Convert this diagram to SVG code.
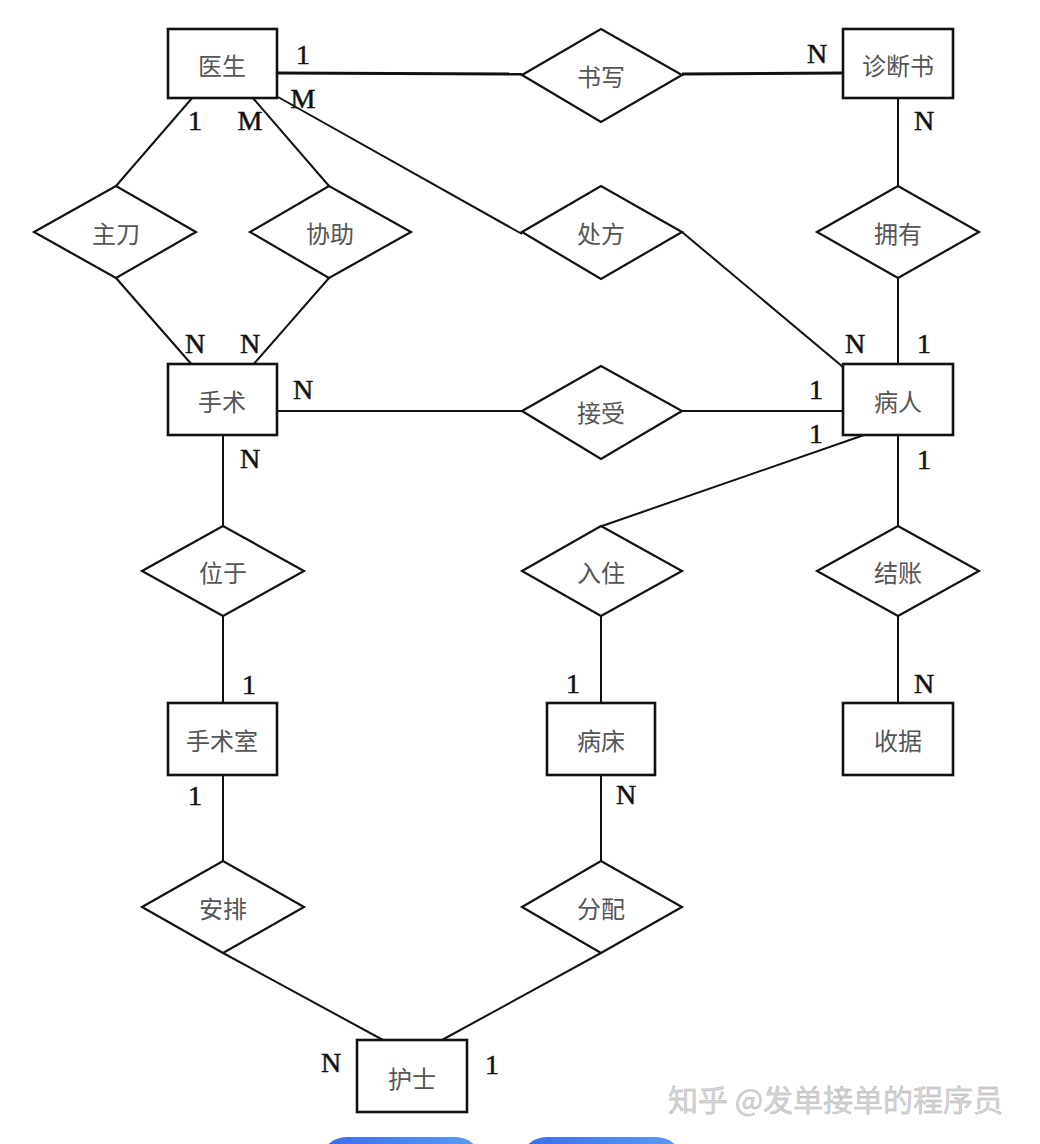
<svg xmlns="http://www.w3.org/2000/svg" width="1040" height="1144" viewBox="0 0 1040 1144">
<style>
.ent rect{fill:#fff;stroke:#111;stroke-width:2.6}
.rel polygon{fill:#fff;stroke:#111;stroke-width:2.2}
.lbl{font-family:"Noto Sans CJK SC","Noto Sans",sans-serif;font-size:24px;fill:#555;text-anchor:middle;dominant-baseline:central}
.card{font-family:"Liberation Serif","DejaVu Serif",serif;font-size:28px;fill:#111;stroke:#111;stroke-width:0.5;text-anchor:middle;dominant-baseline:central}
#connectors line{stroke:#111;stroke-width:2}
.wm{font-family:"Noto Sans CJK SC",sans-serif;font-size:30px;fill:#d4d4d4;stroke:#b0b0b0;stroke-width:0.4}
</style>
<defs>
<linearGradient id="btn" x1="0" x2="1" y1="0" y2="0">
<stop offset="0" stop-color="#3d6cf2"/>
<stop offset="1" stop-color="#5a9cf0"/>
</linearGradient>
</defs>
<rect width="1040" height="1144" fill="#fff"/>
<g id="connectors">
<line x1="277" y1="73" x2="522" y2="74" style="stroke-width:3"/>
<line x1="682" y1="74" x2="843" y2="73" style="stroke-width:3"/>
<line x1="278" y1="97" x2="522" y2="234"/>
<line x1="682" y1="232" x2="843" y2="367"/>
<line x1="898" y1="98" x2="898" y2="186"/>
<line x1="898" y1="278" x2="898" y2="364"/>
<line x1="193" y1="97" x2="116" y2="186"/>
<line x1="252" y1="97" x2="329" y2="186"/>
<line x1="116" y1="278" x2="193" y2="366"/>
<line x1="329" y1="278" x2="252" y2="366"/>
<line x1="277" y1="411" x2="522" y2="411"/>
<line x1="682" y1="411" x2="843" y2="411"/>
<line x1="223" y1="435" x2="223" y2="526"/>
<line x1="867" y1="434" x2="602" y2="526"/>
<line x1="898" y1="435" x2="898" y2="526"/>
<line x1="223" y1="616" x2="223" y2="703"/>
<line x1="601" y1="616" x2="601" y2="703"/>
<line x1="898" y1="616" x2="898" y2="703"/>
<line x1="223" y1="775" x2="223" y2="861"/>
<line x1="601" y1="775" x2="601" y2="861"/>
<line x1="223" y1="953" x2="383" y2="1040"/>
<line x1="601" y1="953" x2="442" y2="1040"/>
</g>
<g id="n_yisheng" class="ent"><rect x="168" y="29" width="109" height="69"/><text class="lbl" x="222" y="64">医生</text></g>
<g id="n_zhenduanshu" class="ent"><rect x="843" y="29" width="110" height="69"/><text class="lbl" x="898" y="64">诊断书</text></g>
<g id="n_shoushu" class="ent"><rect x="168" y="364" width="109" height="71"/><text class="lbl" x="222" y="400">手术</text></g>
<g id="n_bingren" class="ent"><rect x="843" y="364" width="110" height="71"/><text class="lbl" x="898" y="400">病人</text></g>
<g id="n_shoushushi" class="ent"><rect x="168" y="703" width="109" height="72"/><text class="lbl" x="222" y="739">手术室</text></g>
<g id="n_bingchuang" class="ent"><rect x="547" y="703" width="108" height="72"/><text class="lbl" x="601" y="739">病床</text></g>
<g id="n_shouju" class="ent"><rect x="843" y="703" width="110" height="72"/><text class="lbl" x="898" y="739">收据</text></g>
<g id="n_hushi" class="ent"><rect x="357" y="1040" width="110" height="72"/><text class="lbl" x="412" y="1077">护士</text></g>
<g id="r_shuxie" class="rel"><polygon points="522,75 601,29 682,75 601,122"/><text class="lbl" x="601" y="75">书写</text></g>
<g id="r_chufang" class="rel"><polygon points="522,232 601,186 682,232 601,279"/><text class="lbl" x="601" y="232">处方</text></g>
<g id="r_yongyou" class="rel"><polygon points="817,232 898,186 979,232 898,278"/><text class="lbl" x="898" y="232">拥有</text></g>
<g id="r_zhudao" class="rel"><polygon points="34,232 116,186 196,232 116,278"/><text class="lbl" x="116" y="232">主刀</text></g>
<g id="r_xiezhu" class="rel"><polygon points="250,232 329,186 411,232 329,278"/><text class="lbl" x="330" y="232">协助</text></g>
<g id="r_jieshou" class="rel"><polygon points="522,411 601,366 682,411 601,459"/><text class="lbl" x="601" y="411">接受</text></g>
<g id="r_weiyu" class="rel"><polygon points="142,571 223,526 304,571 223,616"/><text class="lbl" x="223" y="571">位于</text></g>
<g id="r_ruzhu" class="rel"><polygon points="522,571 601,526 682,571 601,616"/><text class="lbl" x="601" y="571">入住</text></g>
<g id="r_jiezhang" class="rel"><polygon points="817,571 898,526 979,571 898,616"/><text class="lbl" x="898" y="571">结账</text></g>
<g id="r_anpai" class="rel"><polygon points="142,907 223,861 304,907 223,953"/><text class="lbl" x="223" y="907">安排</text></g>
<g id="r_fenpei" class="rel"><polygon points="522,907 601,861 682,907 601,953"/><text class="lbl" x="601" y="907">分配</text></g>
<g id="cardinalities">
<text class="card" x="303" y="54">1</text>
<text class="card" x="303" y="98">M</text>
<text class="card" x="195" y="120">1</text>
<text class="card" x="250" y="120">M</text>
<text class="card" x="817" y="53">N</text>
<text class="card" x="924" y="120">N</text>
<text class="card" x="195" y="343">N</text>
<text class="card" x="250" y="343">N</text>
<text class="card" x="303" y="389">N</text>
<text class="card" x="250" y="458">N</text>
<text class="card" x="855" y="343">N</text>
<text class="card" x="924" y="343">1</text>
<text class="card" x="816" y="389">1</text>
<text class="card" x="816" y="433">1</text>
<text class="card" x="924" y="459">1</text>
<text class="card" x="249" y="684">1</text>
<text class="card" x="195" y="795">1</text>
<text class="card" x="331" y="1062">N</text>
<text class="card" x="492" y="1064">1</text>
<text class="card" x="573" y="683">1</text>
<text class="card" x="626" y="794">N</text>
<text class="card" x="924" y="683">N</text>
</g>
<text class="wm" x="668" y="1111">知乎 @发单接单的程序员</text>
<rect x="323" y="1137" width="156" height="40" rx="24" fill="url(#btn)"/>
<rect x="523" y="1137" width="157" height="40" rx="24" fill="url(#btn)"/>
</svg>
